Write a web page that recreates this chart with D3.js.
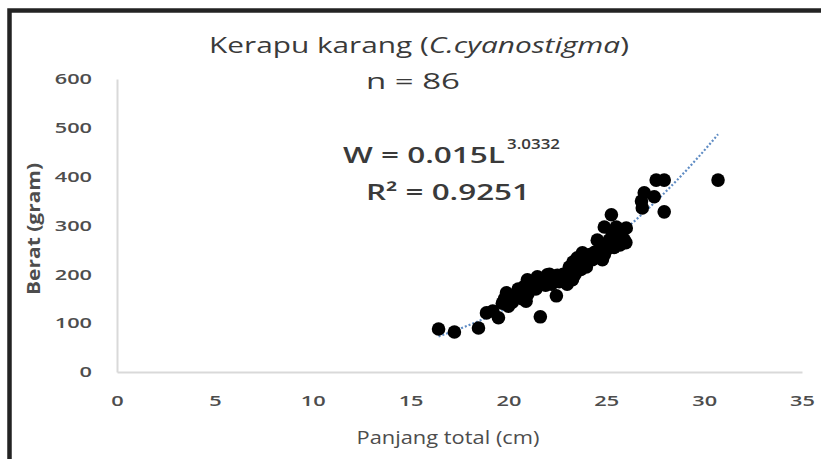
<!DOCTYPE html>
<html>
<head>
<meta charset="utf-8">
<script src="https://cdn.jsdelivr.net/npm/d3@7/dist/d3.min.js"></script>
<style>
  html, body { margin: 0; padding: 0; background: #fff; }
  svg { display: block; }
  text { font-family: "Open Sans", "DejaVu Sans", sans-serif; }
</style>
</head>
<body>
<svg id="chart" width="821" height="459"></svg>
<script>
// ---- data ----
const lengthCm = [16.43, 17.24, 18.47, 18.88, 19.49, 19.69, 19.90, 20.20, 20.56, 20.92,
  20.97, 21.22, 21.48, 21.73, 21.63, 21.99, 22.45, 22.24, 22.76, 23.27,
  23.11, 23.52, 23.78, 23.98, 24.29, 24.54, 24.80, 25.00, 25.15, 24.90,
  25.26, 25.51, 25.92, 26.02, 26.94, 26.84, 27.45, 27.55, 27.96, 27.96,
  30.71, 19.2, 19.8, 20.0, 20.3, 20.5, 20.7, 20.8, 21.0, 21.1,
  21.3, 21.4, 21.5, 21.6, 21.8, 21.9, 22.0, 22.1, 22.3, 22.5,
  22.6, 22.8, 23.0, 23.2, 23.3, 23.4, 23.6, 23.7, 23.9, 24.0,
  24.1, 24.4, 24.6, 24.7, 24.9, 25.1, 25.3, 25.4, 25.6, 25.7,
  25.8, 26.0, 20.9, 22.2, 23.0, 26.8];
const weightG = [88, 82, 90, 121, 111, 141, 162, 143, 162, 164,
  189, 174, 195, 182, 113, 199, 156, 195, 195, 189,
  215, 234, 244, 215, 230, 270, 230, 250, 270, 297,
  322, 297, 270, 295, 367, 336, 359, 393, 393, 328,
  393, 125, 150, 135, 155, 170, 150, 175, 160, 180,
  185, 170, 178, 190, 188, 178, 192, 200, 188, 198,
  185, 200, 195, 205, 225, 200, 220, 210, 235, 225,
  240, 245, 235, 255, 240, 260, 285, 255, 275, 260,
  285, 265, 145, 180, 180, 350];
const xTicks = [0, 5, 10, 15, 20, 25, 30, 35];
const yTicks = [0, 100, 200, 300, 400, 500, 600];
const fitA = 0.015, fitB = 3.0332, fitR2 = "0.9251";
const titleMain = "Kerapu karang (";
const titleItalic = "C.cyanostigma";
const nLabel = "n = 86";
const xTitle = "Panjang total (cm)";
const yTitle = "Berat (gram)";

const points = lengthCm.map((L, i) => ({L, W: weightG[i]}));

// ---- layout ----
const svg = d3.select("#chart");
const x = d3.scaleLinear().domain([0, 35]).range([117, 802]);
const y = d3.scaleLinear().domain([0, 600]).range([372, 79]);
const SX = 1.45; // horizontal stretch of the reference image
const TXT = "#3a3a3a";

// frame
svg.append("path")
  .attr("d", "M9.5,459 L9.5,10.5 L821,10.5")
  .attr("fill", "none").attr("stroke", "#232323").attr("stroke-width", 4.5);

// axes
const xAxis = svg.append("g").attr("transform", `translate(0,${y(0)})`)
  .call(d3.axisBottom(x).tickValues(xTicks).tickSize(0).tickPadding(23));
const yAxis = svg.append("g").attr("transform", `translate(${x(0)},0)`)
  .call(d3.axisLeft(y).tickValues(yTicks).tickSize(0).tickPadding(25));
[xAxis, yAxis].forEach(a => {
  a.select(".domain").attr("stroke", "#d9d9d9").attr("stroke-width", 2);
  a.selectAll("text").attr("font-size", 15).attr("fill", "#4d4d4d")
    .attr("font-weight", 600)
    .attr("font-family", "'Open Sans', sans-serif");
});
xAxis.selectAll("text").each(function() {
  d3.select(this).attr("transform", `scale(${SX},1)`);
});
yAxis.selectAll("text").each(function() {
  const t = d3.select(this);
  const tx = +t.attr("x");
  t.attr("transform", `translate(${tx},0) scale(${SX},1) translate(${-tx},0)`);
});

// trendline
const Lmin = d3.min(lengthCm), Lmax = d3.max(lengthCm);
const trend = d3.range(0, 101).map(i => {
  const L = Lmin + (Lmax - Lmin) * i / 100;
  return [L, fitA * Math.pow(L, fitB)];
});
svg.append("path")
  .attr("d", d3.line().x(d => x(d[0])).y(d => y(d[1]))(trend))
  .attr("fill", "none").attr("stroke", "#5f8cc4").attr("stroke-width", 2.2)
  .attr("stroke-dasharray", "2,2");

// points
svg.append("g").selectAll("circle").data(points).join("circle")
  .attr("cx", d => x(d.L)).attr("cy", d => y(d.W)).attr("r", 6.8)
  .attr("fill", "#000");

// title
const title = svg.append("text").attr("x", 419).attr("y", 53)
  .attr("text-anchor", "middle").attr("font-size", 22).attr("fill", TXT)
  .attr("font-weight", 500)
  .attr("textLength", 420).attr("lengthAdjust", "spacingAndGlyphs");
title.append("tspan").text(titleMain);
title.append("tspan").attr("font-style", "italic").text(titleItalic);
title.append("tspan").text(")");

svg.append("text").attr("x", 413).attr("y", 89).attr("text-anchor", "middle")
  .attr("font-size", 22).attr("fill", TXT).attr("font-weight", 500)
  .attr("textLength", 94).attr("lengthAdjust", "spacingAndGlyphs").text(nLabel);

// equation
svg.append("text").attr("x", 343).attr("y", 163).attr("font-size", 22)
  .attr("fill", TXT).attr("font-weight", 600)
  .attr("textLength", 162).attr("lengthAdjust", "spacingAndGlyphs")
  .text(`W = ${fitA}L`);
svg.append("text").attr("x", 507).attr("y", 149).attr("font-size", 14)
  .attr("fill", TXT).attr("font-weight", 600)
  .attr("textLength", 53).attr("lengthAdjust", "spacingAndGlyphs")
  .text(fitB.toFixed(4));
svg.append("text").attr("x", 448).attr("y", 200).attr("text-anchor", "middle")
  .attr("font-size", 22).attr("fill", TXT).attr("font-weight", 600)
  .attr("textLength", 164).attr("lengthAdjust", "spacingAndGlyphs")
  .text(`R² = ${fitR2}`);

// axis titles
svg.append("text").attr("x", 448).attr("y", 444).attr("text-anchor", "middle")
  .attr("font-size", 18).attr("fill", "#4d4d4d").attr("font-weight", 500)
  .attr("textLength", 183).attr("lengthAdjust", "spacingAndGlyphs").text(xTitle);
svg.append("text").attr("transform", "translate(40,229) rotate(-90)")
  .attr("text-anchor", "middle").attr("font-size", 18).attr("font-weight", 700)
  .attr("fill", "#4d4d4d")
  .attr("textLength", 132).attr("lengthAdjust", "spacingAndGlyphs").text(yTitle);
</script>
</body>
</html>
